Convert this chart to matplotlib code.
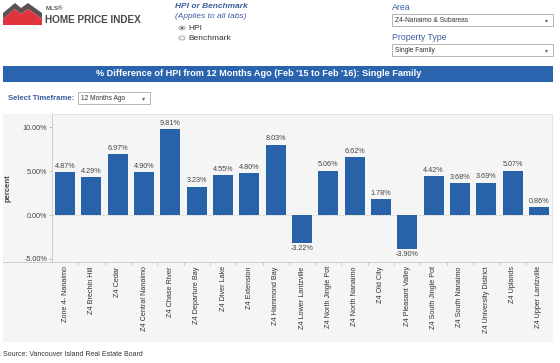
import matplotlib
matplotlib.use("Agg")
import matplotlib.pyplot as plt
from matplotlib.patches import Rectangle, Polygon, Circle

plt.rcParams['font.family'] = ['Liberation Sans', 'DejaVu Sans']

areas = ["Zone 4- Nanaimo", "Z4 Brechin Hill", "Z4 Cedar", "Z4 Central Nanaimo",
         "Z4 Chase River", "Z4 Departure Bay", "Z4 Diver Lake", "Z4 Extension",
         "Z4 Hammond Bay", "Z4 Lower Lantzville", "Z4 North Jingle Pot",
         "Z4 North Nanaimo", "Z4 Old City", "Z4 Pleasant Valley",
         "Z4 South Jingle Pot", "Z4 South Nanaimo", "Z4 University District",
         "Z4 Uplands", "Z4 Upper Lantzville"]
pct_change = [4.87, 4.29, 6.97, 4.90, 9.81, 3.23, 4.55, 4.80, 8.03, -3.22,
              5.06, 6.62, 1.78, -3.90, 4.42, 3.68, 3.69, 5.07, 0.86]
y_ticks = [-5, 0, 5, 10]

W, H = 560, 363
fig = plt.figure(figsize=(W / 100, H / 100), dpi=100)
fig.patch.set_facecolor("white")

def fx(x):
    return x / W

def fy(y):
    return 1 - y / H

def ftext(x, y, s, **kw):
    return fig.text(fx(x), fy(y), s, **kw)

def frect(x0, y0, x1, y1, **kw):
    fig.patches.append(Rectangle((fx(x0), fy(y1)), fx(x1) - fx(x0), fy(y0) - fy(y1),
                                 transform=fig.transFigure, **kw))

# ---- logo ----
grey = [(3, 13), (15, 3), (21, 8), (28, 3), (42, 13), (42, 19), (28, 9), (21, 14), (15, 9), (3, 19)]
red = [(3, 19), (15, 9), (21, 14), (28, 9), (42, 19), (42, 25), (3, 25)]
fig.patches.append(Polygon([(fx(a), fy(b)) for a, b in grey], closed=True,
                           transform=fig.transFigure, facecolor="#5b5251", edgecolor="none"))
fig.patches.append(Polygon([(fx(a), fy(b)) for a, b in red], closed=True,
                           transform=fig.transFigure, facecolor="#e0343c", edgecolor="none"))
ftext(46, 9, "MLS®", fontsize=4.5, color="#555555", va="center", fontweight="bold")
ftext(45, 20, "HOME PRICE INDEX", fontsize=7.2, color="#4a4a4a", va="center", fontweight="bold")

# ---- HPI or Benchmark ----
ftext(175, 7, "HPI or Benchmark", fontsize=6, color="#3b5fa0", va="center",
      fontweight="bold", fontstyle="italic")
ftext(175, 16, "(Applies to all tabs)", fontsize=6, color="#3b5fa0", va="center",
      fontstyle="italic")
for yy, lab, sel in [(28, "HPI", True), (38, "Benchmark", False)]:
    fig.patches.append(Circle((fx(182), fy(yy)), 3.2 / W, transform=fig.transFigure,
                              facecolor="#eeeeee", edgecolor="#999999", linewidth=0.5))
    if sel:
        fig.patches.append(Circle((fx(182), fy(yy)), 1.5 / W, transform=fig.transFigure,
                                  facecolor="#555555", edgecolor="none"))
    ftext(188, yy, lab, fontsize=6, color="#333333", va="center")

# ---- dropdowns ----
def dropdown(x0, y0, x1, y1, label):
    frect(x0, y0, x1, y1, facecolor="white", edgecolor="#a9a9a9", linewidth=0.6)
    ftext(x0 + 3, (y0 + y1) / 2, label, fontsize=4.8, color="#333333", va="center")
    ftext(x1 - 6, (y0 + y1) / 2 + 0.5, "▾", fontsize=4.5, color="#666666",
          va="center", ha="center")

ftext(392, 7, "Area", fontsize=6.3, color="#3b5fa0", va="center")
dropdown(392, 14, 553, 26, "Z4-Nanaimo & Subareas")
ftext(392, 38, "Property Type", fontsize=6.3, color="#3b5fa0", va="center")
dropdown(392, 44, 553, 56, "Single Family")

# ---- banner ----
frect(3, 66, 553, 82, facecolor="#2a64ae", edgecolor="none")
ftext(259, 74, "% Difference of HPI from 12 Months Ago (Feb '15 to Feb '16): Single Family",
      fontsize=6.6, color="white", fontweight="bold", ha="center", va="center")

ftext(8, 99, "Select Timeframe:", fontsize=5.6, color="#3b5fa0", va="center", fontweight="bold")
dropdown(78, 92, 150, 104, "12 Months Ago")

# ---- chart panel ----
frect(3, 114, 553, 342, facecolor="#f5f5f5", edgecolor="none", zorder=-10)

ax = fig.add_axes([fx(52), fy(262), fx(552) - fx(52), fy(114) - fy(262)])
ax.set_zorder(5)
ax.set_facecolor("#f5f5f5")
x = list(range(len(areas)))
ax.bar(x, pct_change, width=0.76, color="#2862a8", zorder=3)
ax.set_xlim(-0.5, len(areas) - 0.5)
ax.set_ylim(-5.36, 11.52)
ax.axhline(0, color="#c8c8c8", linewidth=0.6, linestyle=(0, (2, 2)), zorder=1)

for xi, v in zip(x, pct_change):
    if v >= 0:
        ax.text(xi, v + 0.25, f"{v:.2f}%", ha="center", va="bottom", fontsize=5.2, color="#444444")
    else:
        ax.text(xi, v - 0.25, f"{v:.2f}%", ha="center", va="top", fontsize=5.2, color="#444444")

ax.set_yticks(y_ticks)
ax.set_yticklabels([f"{t:.2f}%" for t in y_ticks], fontsize=5.2, color="#444444")
ax.tick_params(axis="y", length=2, width=0.5, color="#aaaaaa", pad=1.5)
ax.set_xticks(x)
ax.set_xticklabels(areas, rotation=90, fontsize=5.2, color="#333333", va="top", ha="center")
ax.tick_params(axis="x", length=0, pad=3)
ax.set_xticks([i + 0.5 for i in x[:-1]], minor=True)
ax.tick_params(axis="x", which="minor", length=2, width=0.5, color="#bbbbbb")
ax.set_ylabel("percent", fontsize=5.5, color="#444444", fontweight="bold")
ax.yaxis.set_label_coords(fx(12 - 52) * W / (500), 0.5)
for side in ["left", "bottom"]:
    ax.spines[side].set_color("#c8c8c8")
    ax.spines[side].set_linewidth(0.6)
for side in ["top", "right"]:
    ax.spines[side].set_color("#e0e0e0")
    ax.spines[side].set_linewidth(0.6)

fig.lines.append(plt.Line2D([fx(3), fx(52)], [fy(262), fy(262)], transform=fig.transFigure,
                            color="#c8c8c8", linewidth=0.6))

ftext(3, 355, "Source: Vancouver Island Real Estate Board", fontsize=5, color="#333333", va="center")

fig.savefig("out.png", dpi=100)
